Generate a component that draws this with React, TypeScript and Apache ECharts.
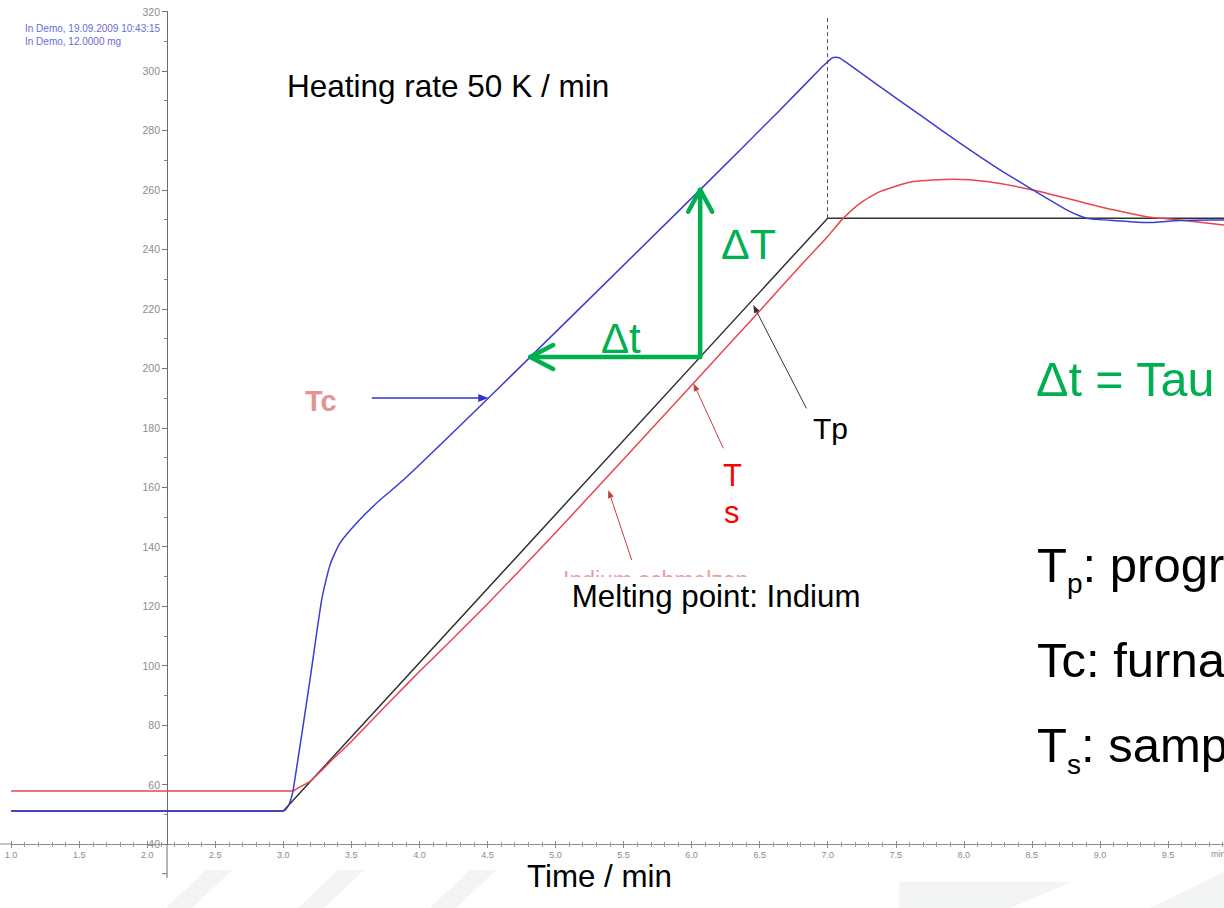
import { useEffect, useRef } from 'react';
import * as echarts from 'echarts';

// ---------- data (time in min, temperature in °C) ----------
const tpTime = [1.0, 3.0, 7.0, 10.0];
const tpTemp = [51.1, 51.1, 250.5, 250.5];

const tcTime = [1.0, 3.0, 3.03, 3.05, 3.073, 3.196, 3.282, 3.343, 3.416, 3.539, 3.7, 3.882, 4.592, 6.062, 6.65, 6.96, 7.0, 7.03, 7.055, 7.09, 7.384, 7.678, 7.972, 8.266, 8.508, 8.756, 8.85, 8.903, 9.0, 9.096, 9.344, 9.588, 9.912, 10.0];
const tcTemp = [51.1, 51.1, 52.3, 54.2, 58.2, 95.2, 122.1, 133.8, 141.2, 148.0, 155.3, 162.4, 193.8, 260.0, 286.9, 301.4, 303.1, 304.3, 304.6, 304.3, 294.7, 285.2, 275.7, 266.7, 260.0, 253.3, 251.3, 250.5, 250.0, 249.7, 249.0, 249.7, 249.9, 250.0];

const tsTime = [1.0, 3.05, 3.076, 3.1, 3.2, 3.35, 3.5, 3.8, 4.0, 4.2, 4.5, 5.0, 5.5, 6.0, 6.5, 6.8, 7.0, 7.041, 7.115, 7.237, 7.384, 7.629, 7.921, 8.168, 8.508, 8.857, 9.099, 9.344, 9.588, 9.912, 10.0];
const tsTemp = [57.8, 57.8, 57.9, 58.6, 61.2, 67.9, 74.5, 88.7, 98.0, 107.0, 120.7, 144.7, 169.4, 194.3, 219.3, 234.5, 244.3, 246.6, 250.5, 255.5, 259.4, 262.8, 263.6, 262.8, 260.0, 256.0, 253.3, 251.0, 249.9, 248.2, 247.8];

// end of heating segment (dashed marker) and the time at which Δt / ΔT are shown
const heatEndTime = 7.0;
const dashTopTemp = 318.8;
const deltaTime = 6.063;

// annotation arrows in data units [time, temp]
const tcArrowFrom = [3.65, 190];
const tpArrowFrom = [6.844, 186.5];
const tpArrowTo = [6.453, 221.3];
const tsArrowFrom = [6.233, 173.1];
const tsArrowTo = [6.013, 195.0];
const inArrowFrom = [5.56, 135.5];
const inArrowTo = [5.388, 159.1];

const FONT = '"Liberation Sans", Arial, Helvetica, sans-serif';
const GREEN = '#00b050';

function interpY(xs: number[], ys: number[], x: number) {
  for (let i = 0; i < xs.length - 1; i++) {
    if (x >= xs[i] && x <= xs[i + 1]) {
      const f = (x - xs[i]) / (xs[i + 1] - xs[i]);
      return ys[i] + f * (ys[i + 1] - ys[i]);
    }
  }
  return ys[ys.length - 1];
}
function interpX(xs: number[], ys: number[], y: number) {
  for (let i = 0; i < xs.length - 1; i++) {
    const a = ys[i], b = ys[i + 1];
    if (a !== b && (y - a) * (y - b) <= 0) {
      return xs[i] + ((y - a) / (b - a)) * (xs[i + 1] - xs[i]);
    }
  }
  return xs[0];
}

function arrow(p0: number[], p1: number[], color: string, width: number, headLen: number, headHalf: number, open: boolean) {
  const dx = p1[0] - p0[0], dy = p1[1] - p0[1];
  const L = Math.hypot(dx, dy) || 1;
  const ux = dx / L, uy = dy / L;
  const nx = -uy, ny = ux;
  const bx = p1[0] - ux * headLen, by = p1[1] - uy * headLen;
  const left = [bx + nx * headHalf, by + ny * headHalf];
  const right = [bx - nx * headHalf, by - ny * headHalf];
  const els: any[] = [];
  const end = open ? p1 : [bx + ux * 1.5, by + uy * 1.5];
  els.push({
    type: 'line', silent: true, z: 50,
    shape: { x1: p0[0], y1: p0[1], x2: end[0], y2: end[1] },
    style: { stroke: color, lineWidth: width, lineCap: open ? 'round' : 'butt' },
  });
  if (open) {
    els.push({
      type: 'polyline', silent: true, z: 50,
      shape: { points: [left, p1, right] },
      style: { stroke: color, lineWidth: width, lineCap: 'round', lineJoin: 'round', fill: null },
    });
  } else {
    els.push({
      type: 'polygon', silent: true, z: 50,
      shape: { points: [left, p1, right] },
      style: { fill: color },
    });
  }
  return els;
}

function txt(text: string, x: number, y: number, size: number, color: string, weight: string = 'normal', z = 60, opacity = 1) {
  return {
    type: 'text', x, y, z, silent: true,
    style: {
      text, fill: color, fontSize: size, fontFamily: FONT, fontWeight: weight, opacity,
      align: 'left', verticalAlign: 'middle', textAlign: 'left', textVerticalAlign: 'middle',
    },
  };
}

export default function App() {
  const ref = useRef<HTMLDivElement>(null);

  useEffect(() => {
    if (!ref.current) return;
    const chart = echarts.init(ref.current, null, { renderer: 'svg' });

    const tickColor = '#8a8a8a';
    const gridLeft = 11.1;
    const option: any = {
      animation: false,
      backgroundColor: '#ffffff',
      grid: { left: gridLeft, width: 1224.9, top: 11.5, bottom: 64, containLabel: false, outerBoundsMode: 'none' },
      xAxis: [
        {
          type: 'value', min: 1, max: 10, interval: 0.5, position: 'bottom',
          axisLine: { show: true, onZero: false, lineStyle: { color: '#8a8a8a', width: 1 } },
          axisTick: { show: true, length: 4, lineStyle: { color: tickColor } },
          minorTick: { show: true, splitNumber: 5, length: 3, lineStyle: { color: '#9a9a9a' } },
          axisLabel: {
            show: true, fontSize: 9, color: '#8c8c8c', margin: 6, fontFamily: FONT,
            formatter: (v: number) => (v >= 10 || Math.abs(v * 2 - Math.round(v * 2)) > 1e-6 ? '' : v.toFixed(1)),
          },
          splitLine: { show: false },
        },
        {
          type: 'value', min: 1, max: 10, interval: 0.5, position: 'bottom',
          axisLine: { show: false, onZero: false },
          axisTick: { show: true, inside: true, length: 3, lineStyle: { color: tickColor } },
          minorTick: { show: true, splitNumber: 5, length: 2, lineStyle: { color: '#9a9a9a' } },
          axisLabel: { show: false },
          splitLine: { show: false },
        },
      ],
      yAxis: {
        type: 'value', min: 40, max: 320, interval: 20, position: 'left', offset: -155.9,
        axisLine: { show: true, onZero: false, lineStyle: { color: '#6a6a6a', width: 1 } },
        axisTick: { show: true, length: 5, lineStyle: { color: '#777' } },
        minorTick: { show: true, splitNumber: 2, length: 3, lineStyle: { color: '#888' } },
        axisLabel: { fontSize: 10.5, color: '#8c8c8c', margin: 7, fontFamily: FONT },
        splitLine: { show: false },
      },
      series: [
        {
          type: 'line', name: 'Tp', symbol: 'none', showSymbol: false, z: 2,
          data: tpTime.map((t, i) => [t, tpTemp[i]]),
          lineStyle: { color: '#2d3430', width: 1.5 },
          markLine: {
            silent: true, symbol: ['none', 'none'], label: { show: false },
            lineStyle: { color: '#555', type: [4, 3], width: 1 },
            emphasis: { disabled: true },
            data: [[{ coord: [heatEndTime, interpY(tpTime, tpTemp, heatEndTime)] }, { coord: [heatEndTime, dashTopTemp] }]],
          },
        },
        {
          type: 'line', name: 'Ts', symbol: 'none', showSymbol: false, z: 3, smooth: 0.2,
          data: tsTime.map((t, i) => [t, tsTemp[i]]),
          lineStyle: { color: '#e8454f', width: 1.5 },
        },
        {
          type: 'line', name: 'Tc', symbol: 'none', showSymbol: false, z: 4, smooth: 0.2,
          data: tcTime.map((t, i) => [t, tcTemp[i]]),
          lineStyle: { color: '#3c3cd2', width: 1.5 },
        },
      ],
    };
    chart.setOption(option);

    const px = (p: number[]) => chart.convertToPixel({ seriesIndex: 0 }, p) as number[];

    // Δt / ΔT geometry from the curves
    const cornerT = interpY(tpTime, tpTemp, deltaTime);
    const corner = px([deltaTime, cornerT]);
    const vTip = px([deltaTime, interpY(tcTime, tcTemp, deltaTime)]);
    const hTip = px([interpX(tcTime, tcTemp, cornerT), cornerT]);

    const tcTipTime = interpX(tcTime, tcTemp, tcArrowFrom[1]);
    const tcFrom = px(tcArrowFrom);
    const tcTo = px([tcTipTime, tcArrowFrom[1]]);

    const axisOrigin = px([1, 40]);
    const yAxisX = gridLeft + 155.9;
    const y30 = px([1, 30])[1];

    const stripes = [166, 298, 430].map((b) => ({
      type: 'polygon', silent: true, z: -10,
      shape: { points: [[b, 908], [b + 26, 908], [b + 66, 870], [b + 40, 870]] },
      style: { fill: '#f4f4f4' },
    }));

    const elements: any[] = [
      ...stripes,
      { type: 'polygon', silent: true, z: -10, shape: { points: [[899, 882], [1072, 882], [1010, 908], [899, 908]] }, style: { fill: '#f3f4f4' } },
      { type: 'polygon', silent: true, z: -10, shape: { points: [[1150, 908], [1224, 872], [1224, 908]] }, style: { fill: '#f3f4f4' } },
      // axis extensions
      { type: 'line', silent: true, z: 5, shape: { x1: yAxisX, y1: axisOrigin[1], x2: yAxisX, y2: 878 }, style: { stroke: '#6a6a6a', lineWidth: 1 } },
      { type: 'line', silent: true, z: 5, shape: { x1: yAxisX - 5, y1: y30, x2: yAxisX, y2: y30 }, style: { stroke: '#777', lineWidth: 1 } },
      { type: 'line', silent: true, z: 5, shape: { x1: 0, y1: axisOrigin[1], x2: axisOrigin[0], y2: axisOrigin[1] }, style: { stroke: '#8a8a8a', lineWidth: 1 } },
      // header
      txt('In Demo, 19.09.2009 10:43:15', 25, 28, 10, '#6b6bd6'),
      txt('In Demo, 12.0000 mg', 25, 41, 10, '#6b6bd6'),
      txt('min', 1211, 854, 9, '#8c8c8c'),
      // arrows
      ...arrow(corner, vTip, GREEN, 4.5, 22, 12, true),
      ...arrow(corner, hTip, GREEN, 4.5, 23, 12, true),
      ...arrow(tcFrom, tcTo, '#3333cc', 1.5, 10, 4, false),
      ...arrow(px(tpArrowFrom), px(tpArrowTo), '#333333', 1, 8, 3, false),
      ...arrow(px(tsArrowFrom), px(tsArrowTo), '#c94040', 1, 8, 3, false),
      ...arrow(px(inArrowFrom), px(inArrowTo), '#c94040', 1, 8, 3, false),
      // labels
      txt('Heating rate 50 K / min', 287, 85.5, 31.5, '#000'),
      txt('Tc', 305, 401, 29, '#e39494', 'bold'),
      txt('ΔT', 721, 244, 43, GREEN),
      txt('Δt', 601, 338, 42, GREEN),
      txt('Tp', 813, 428, 30, '#000'),
      txt('T', 723, 475, 31, '#ff0000'),
      txt('s', 724, 512, 31, '#ff0000'),
      txt('Indium schmelzen', 563, 580, 23, '#e07070', 'normal', 55, 0.7),
      { type: 'rect', silent: true, z: 56, shape: { x: 558, y: 577, width: 312, height: 38 }, style: { fill: '#ffffff' } },
      txt('Melting point: Indium', 571.7, 596.3, 31.3, '#000', 'normal', 60),
      txt('Time / min', 527, 876, 31.3, '#000'),
      txt('Δt = Tau', 1036, 378.5, 48.5, GREEN),
      txt('T', 1037, 564.7, 49, '#000'),
      txt('p', 1067, 583, 28, '#000'),
      txt(': program temperature', 1082.6, 564.7, 49, '#000'),
      txt('Tc: furnace temperature', 1037, 659.7, 49, '#000'),
      txt('T', 1037, 745, 49, '#000'),
      txt('s', 1067, 764, 28, '#000'),
      txt(': sample temperature', 1081, 745, 49, '#000'),
    ];

    chart.setOption({ graphic: { elements } });

    return () => {
      chart.dispose();
    };
  }, []);

  return (
    <div
      ref={ref}
      style={{ position: 'absolute', left: 0, top: 0, width: 1224, height: 908, background: '#fff', overflow: 'hidden' }}
    />
  );
}
